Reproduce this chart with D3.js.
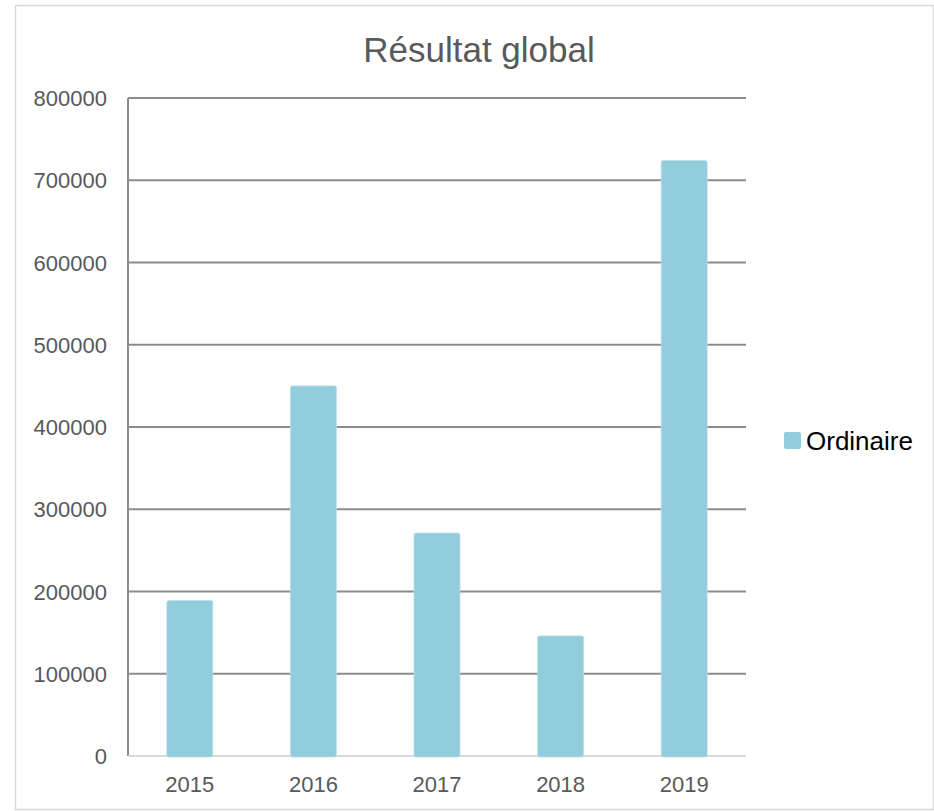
<!DOCTYPE html>
<html>
<head>
<meta charset="utf-8">
<script src="https://cdn.jsdelivr.net/npm/d3@7"></script>
<style>
  body { margin: 0; background: #fff; }
  text { font-family: "Liberation Sans", Arial, sans-serif; }
</style>
</head>
<body>
<svg width="934" height="811"></svg>
<script>
var years = ["2015", "2016", "2017", "2018", "2019"];
var ordinaire = [189000, 450000, 271000, 146000, 724000];
var yTicks = [0, 100000, 200000, 300000, 400000, 500000, 600000, 700000, 800000];
var seriesName = "Ordinaire";
var title = "Résultat global";

var svg = d3.select("svg"),
  margin = { top: 98, right: 188, bottom: 55, left: 128 },
  width = +svg.attr("width") - margin.left - margin.right,
  height = +svg.attr("height") - margin.top - margin.bottom;

// chart frame
svg.append("rect")
  .attr("x", 15.5).attr("y", 5.5)
  .attr("width", 918).attr("height", 804)
  .attr("fill", "#fff")
  .attr("stroke", "#d9d9d9")
  .attr("stroke-width", 1.5);

svg.append("text")
  .attr("x", 479).attr("y", 62)
  .attr("text-anchor", "middle")
  .attr("fill", "#595959")
  .style("font-size", "35px")
  .text(title);

var g = svg.append("g")
  .attr("transform", "translate(" + margin.left + "," + margin.top + ")");

var x = d3.scaleBand()
  .domain(years)
  .range([0, width])
  .paddingInner(0.628)
  .paddingOuter(0.314);

var y = d3.scaleLinear().domain([0, 800000]).range([height, 0]);

// gridlines
g.append("g")
  .selectAll("line")
  .data(yTicks.slice(1))
  .enter()
  .append("line")
  .attr("x1", 0).attr("x2", width)
  .attr("y1", function(d) { return y(d); })
  .attr("y2", function(d) { return y(d); })
  .attr("stroke", "#8c8c8c")
  .attr("stroke-width", 2);

// left axis line
g.append("line")
  .attr("x1", 0).attr("x2", 0)
  .attr("y1", 0).attr("y2", height)
  .attr("stroke", "#8c8c8c")
  .attr("stroke-width", 2);

// baseline
g.append("line")
  .attr("x1", 0).attr("x2", width)
  .attr("y1", y(0)).attr("y2", y(0))
  .attr("stroke", "#d9d9d9")
  .attr("stroke-width", 2);

var yAxis = g.append("g")
  .call(d3.axisLeft(y).tickValues(yTicks).tickSize(0).tickPadding(21).tickFormat(d3.format("d")));
yAxis.select(".domain").remove();
yAxis.selectAll("text")
  .attr("fill", "#595959")
  .style("font-size", "22px")
  .attr("dy", "0.35em");

var xAxis = g.append("g")
  .attr("transform", "translate(0," + height + ")")
  .call(d3.axisBottom(x).tickSize(0).tickPadding(20));
xAxis.select(".domain").remove();
xAxis.selectAll("text")
  .attr("fill", "#595959")
  .style("font-size", "22px");

g.selectAll(".bar")
  .data(ordinaire)
  .enter()
  .append("rect")
  .attr("class", "bar")
  .attr("x", function(d, i) { return x(years[i]); })
  .attr("y", function(d) { return y(d); })
  .attr("width", x.bandwidth())
  .attr("height", function(d) { return height - y(d) + 1; })
  .attr("rx", 2)
  .attr("fill", "#92cddc")
  .attr("stroke", "#b7dee8")
  .attr("stroke-width", 0.8);

// legend
var legend = svg.append("g").attr("transform", "translate(784,432)");
legend.append("rect")
  .attr("width", 17).attr("height", 17)
  .attr("rx", 2)
  .attr("fill", "#92cddc");
legend.append("text")
  .attr("x", 22).attr("y", 8.5)
  .attr("dy", "0.35em")
  .attr("fill", "#000")
  .style("font-size", "26px")
  .text(seriesName);
</script>
</body>
</html>
